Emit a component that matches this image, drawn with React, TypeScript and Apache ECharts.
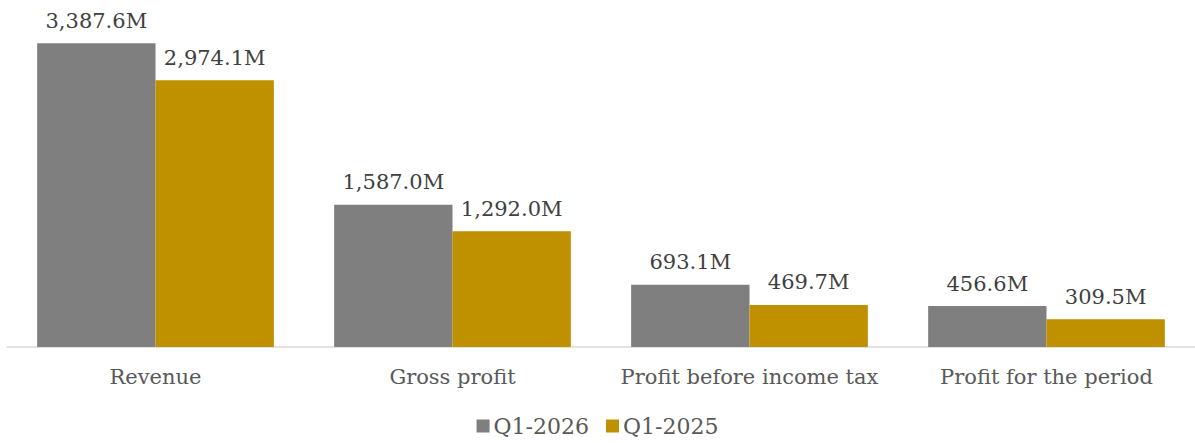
import React, { useEffect, useRef } from "react";
import * as echarts from "echarts";

const categories = ["Revenue", "Gross profit", "Profit before income tax", "Profit for the period"];
const seriesNames = ["Q1-2026", "Q1-2025"];
const q12026 = [3387.6, 1587.0, 693.1, 456.6];
const q12025 = [2974.1, 1292.0, 469.7, 309.5];
const colors = ["#7f7f7f", "#bf9000"];

const FONT = "Georgia, 'DejaVu Serif', serif";

const fmt = (v: number) =>
  v.toLocaleString("en-US", { minimumFractionDigits: 1, maximumFractionDigits: 1 }) + "M";

export default function App() {
  const ref = useRef<HTMLDivElement>(null);
  useEffect(() => {
    if (!ref.current) return;
    const chart = echarts.init(ref.current, undefined, { renderer: "svg" });
    const label = {
      show: true,
      position: "top" as const,
      distance: 12,
      color: "#404040",
      fontFamily: FONT,
      fontSize: 21,
      formatter: (p: any) => fmt(p.value),
    };
    chart.setOption({
      animation: false,
      textStyle: { fontFamily: FONT },
      grid: { left: 7, right: -2, top: 8, bottom: 96, containLabel: false },
      legend: {
        bottom: 1,
        left: "center",
        itemWidth: 13,
        itemHeight: 13,
        itemGap: 17,
        icon: "rect",
        textStyle: { fontFamily: FONT, fontSize: 22, color: "#595959", padding: [0, 0, 0, -1] },
        data: seriesNames,
      },
      xAxis: {
        type: "category",
        data: categories,
        axisLine: { lineStyle: { color: "#d9d9d9", width: 1.5 } },
        axisTick: { show: false },
        axisLabel: {
          color: "#595959",
          fontFamily: FONT,
          fontSize: 21,
          margin: 19,
          interval: 0,
          hideOverlap: false,
        },
      },
      yAxis: {
        type: "value",
        min: 0,
        max: 3780,
        show: false,
        splitLine: { show: false },
      },
      series: [
        {
          name: seriesNames[0],
          type: "bar",
          data: q12026,
          barGap: "0%",
          barCategoryGap: "20.3%",
          itemStyle: { color: colors[0] },
          label,
        },
        {
          name: seriesNames[1],
          type: "bar",
          data: q12025,
          barGap: "0%",
          barCategoryGap: "20.3%",
          itemStyle: { color: colors[1] },
          label,
        },
      ],
    });
    return () => chart.dispose();
  }, []);
  return (
    <div
      ref={ref}
      style={{ position: "absolute", left: 0, top: 0, width: 1195, height: 443, background: "#fff" }}
    />
  );
}
